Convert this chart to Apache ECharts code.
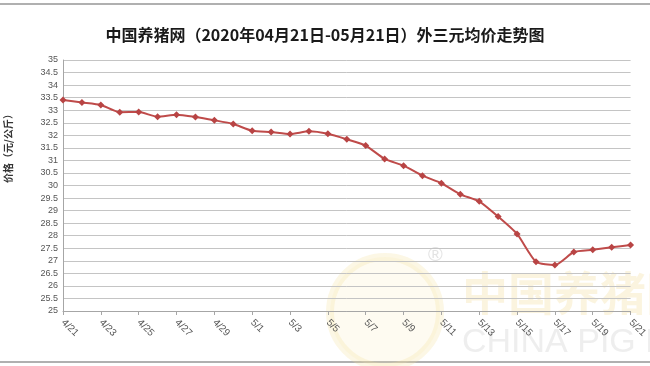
<!DOCTYPE html>
<html>
<head>
<meta charset="utf-8">
<script src="https://cdn.jsdelivr.net/npm/echarts@6/dist/echarts.min.js"></script>
<style>html,body{margin:0;padding:0;background:#fff;}#c{width:650px;height:366px;}</style>
</head>
<body>
<div id="c"></div>
<script>
var categories = ['4/21','4/22','4/23','4/24','4/25','4/26','4/27','4/28','4/29','4/30',
  '5/1','5/2','5/3','5/4','5/5','5/6','5/7','5/8','5/9','5/10',
  '5/11','5/12','5/13','5/14','5/15','5/16','5/17','5/18','5/19','5/20','5/21'];
var prices = [33.41,33.31,33.21,32.92,32.93,32.74,32.82,32.73,32.60,32.45,
  32.18,32.13,32.05,32.16,32.06,31.84,31.59,31.06,30.79,30.39,
  30.09,29.65,29.37,28.76,28.07,26.96,26.83,27.35,27.44,27.54,27.63];
var yMin = 25, yMax = 35, yStep = 0.5;
var titleText = '中国养猪网（2020年04月21日-05月21日）外三元均价走势图';
var yName = '价格（元/公斤）';

var chart = echarts.init(document.getElementById('c'));
chart.setOption({
  backgroundColor: '#fff',
  animation: false,
  title: {
    text: titleText,
    left: 'center',
    top: 22,
    textStyle: {fontFamily: 'Noto Sans CJK SC', fontWeight: 'bold', fontSize: 16, color: '#1a1a1a'}
  },
  graphic: [
    {type: 'line', shape: {x1: 0, y1: 4, x2: 650, y2: 4}, style: {stroke: '#b0b0b0', lineWidth: 2}, z: 0},
    {type: 'line', shape: {x1: 0, y1: 362, x2: 650, y2: 362}, style: {stroke: '#b0b0b0', lineWidth: 2}, z: 0},
    {type: 'circle', shape: {cx: 385, cy: 312, r: 55}, style: {fill: 'rgba(250,235,180,0.18)', stroke: 'rgba(245,225,150,0.25)', lineWidth: 8}, z: 0},
    {type: 'text', left: 462, top: 270, style: {text: '中国养猪网', font: 'bold 46px "Noto Sans CJK SC"', fill: 'rgba(240,215,140,0.28)'}, z: 0},
    {type: 'text', left: 462, top: 326, style: {text: 'CHINA PIG NET', font: '34px "Liberation Sans"', fill: 'rgba(200,200,200,0.3)'}, z: 0},
    {type: 'text', left: 428, top: 245, style: {text: '®', font: '20px "Liberation Sans"', fill: 'rgba(200,200,200,0.5)'}, z: 0},
    {type: 'text', x: 8, y: 146, rotation: Math.PI / 2, style: {text: yName, font: 'bold 10px "Noto Sans CJK SC"', fill: '#333', align: 'center', verticalAlign: 'middle'}, z: 10}
  ],
  grid: {left: 63, right: 6, top: 60, bottom: 55, containLabel: false},
  xAxis: {
    type: 'category',
    data: categories,
    boundaryGap: false,
    axisLine: {lineStyle: {color: '#a6a6a6', width: 1}},
    axisTick: {show: true, interval: 1, length: 4, lineStyle: {color: '#a6a6a6'}},
    axisLabel: {interval: 1, rotate: -45, fontSize: 10, color: '#555', fontFamily: 'Liberation Sans', margin: 10},
    splitLine: {show: false}
  },
  yAxis: {
    type: 'value',
    min: yMin, max: yMax, interval: yStep,
    axisLine: {show: true, lineStyle: {color: '#a6a6a6'}},
    axisTick: {show: false},
    axisLabel: {fontSize: 9, color: '#555', fontFamily: 'Liberation Sans', margin: 5},
    splitLine: {lineStyle: {color: '#c4c4c4', width: 1}}
  },
  series: [{
    type: 'line',
    data: prices,
    smooth: 0.2,
    symbol: 'diamond',
    symbolSize: 7,
    lineStyle: {color: '#bf4b4a', width: 2},
    itemStyle: {color: '#b84444'}
  }]
});
</script>
</body>
</html>
